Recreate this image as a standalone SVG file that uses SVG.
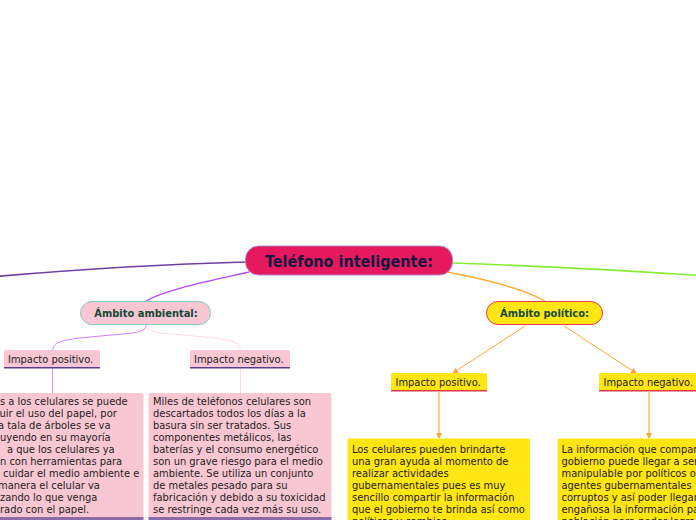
<svg xmlns="http://www.w3.org/2000/svg" width="696" height="520" viewBox="0 0 696 520">
<style>
text{font-family:"DejaVu Sans Condensed","DejaVu Sans",sans-serif;font-stretch:condensed;fill:#222}
.t{font-size:11px}
.b{font-weight:bold;fill:#0f4a35}
.pk{fill:#f9c6d3}
.ye{fill:#ffe512}
.c{fill:none}
</style>
<defs>
<marker id="ah" markerWidth="6" markerHeight="6" refX="5" refY="3" orient="auto" markerUnits="userSpaceOnUse">
<path d="M0,0 L6,3 L0,6 z" fill="#ffa733"/>
</marker>
<clipPath id="clipL"><rect x="0" y="393" width="144" height="127"/></clipPath>
</defs>
<g id="connectors">
<path class="c" d="M246,262 C170,264 70,270 -10,277" stroke="#6f3fa0" stroke-width="1.6"/>
<path class="c" d="M452,263 C540,266 620,270 706,276" stroke="#88ec30" stroke-width="1.6"/>
<path class="c" d="M249,272 C205,282 165,290 146,301" stroke="#b44cf0" stroke-width="1.4"/>
<path class="c" d="M447,272 C490,280 525,290 545,301" stroke="#ffa733" stroke-width="1.3"/>
<path class="c" d="M146,325 C146,334 130,333 90,337 C58,340 53,343 53,350" stroke="#d080ff" stroke-width="1"/>
<path class="c" d="M146,325 C146,334 165,333 205,337 C236,340 240,343 240,350" stroke="#ffd9e8" stroke-width="1"/>
<line x1="52.5" y1="368" x2="52.5" y2="393" stroke="#d491ff" stroke-width="1"/>
<line x1="240.5" y1="368" x2="240.5" y2="393" stroke="#ffd6e6" stroke-width="1"/>
<line x1="525" y1="326" x2="453" y2="373" stroke="#ffa733" stroke-width="1" marker-end="url(#ah)"/>
<line x1="564" y1="326" x2="636" y2="373" stroke="#ffa733" stroke-width="1" marker-end="url(#ah)"/>
<line x1="439" y1="392" x2="439" y2="438" stroke="#ffa733" stroke-width="1.2" marker-end="url(#ah)"/>
<line x1="649" y1="392" x2="649" y2="438" stroke="#ffa733" stroke-width="1.2" marker-end="url(#ah)"/>
</g>
<g id="central">
<rect x="245.5" y="246" width="207" height="29" rx="13" fill="#e6195f" stroke="#b08ad0" stroke-width="1"/>
<text x="349" y="267" text-anchor="middle" font-size="16" font-weight="bold" style="fill:#14183f">Teléfono inteligente:</text>
</g>
<g id="ambiental">
<rect x="80.5" y="301.5" width="130" height="23" rx="11.5" fill="#f9c6d3" stroke="#80cfc0" stroke-width="1"/>
<text class="t b" x="146" y="317" text-anchor="middle">Ámbito ambiental:</text>
</g>
<g id="politico">
<rect x="486.5" y="301.5" width="116" height="23" rx="11.5" fill="#ffe512" stroke="#e8394a" stroke-width="1"/>
<text class="t b" x="544.5" y="317" text-anchor="middle">Ámbito político:</text>
</g>
<g id="amb-positivo">
<rect class="pk" x="4" y="350" width="96" height="18" rx="2"/>
<rect x="4" y="367" width="96" height="1.5" fill="#5c3a8c"/>
<text class="t" x="8" y="363">Impacto positivo.</text>
</g>
<g id="amb-negativo">
<rect class="pk" x="190" y="350" width="100" height="18" rx="2"/>
<rect x="190" y="367" width="100" height="1.5" fill="#5c3a8c"/>
<text class="t" x="194" y="363">Impacto negativo.</text>
</g>
<g id="amb-positivo-texto">
<rect class="pk" x="-10" y="393" width="153.5" height="127" rx="2"/>
<rect x="-10" y="517" width="153.5" height="3" fill="#8c6ca8"/>
<g class="t" clip-path="url(#clipL)">
<text class="t" x="0" y="405">s a los celulares se puede</text>
<text class="t" x="-0.5" y="417">uir el uso del papel, por</text>
<text class="t" x="-2" y="429">a tala de árboles se va</text>
<text class="t" x="0" y="441">uyendo en su mayoría</text>
<text class="t" x="7" y="453">a que los celulares ya</text>
<text class="t" x="0" y="465">n con herramientas para</text>
<text class="t" x="3" y="477">cuidar el medio ambiente e</text>
<text class="t" x="-2" y="489">manera el celular va</text>
<text class="t" x="0" y="501">zando lo que venga</text>
<text class="t" x="0" y="513">rado con el papel.</text>
</g>
</g>
<g id="amb-negativo-texto">
<rect class="pk" x="148.5" y="393" width="183" height="127" rx="2"/>
<rect x="148.5" y="517" width="183" height="3" fill="#8c6ca8"/>
<text class="t" x="153" y="405">Miles de teléfonos celulares son</text>
<text class="t" x="153" y="417">descartados todos los días a la</text>
<text class="t" x="153" y="429">basura sin ser tratados. Sus</text>
<text class="t" x="153" y="441">componentes metálicos, las</text>
<text class="t" x="153" y="453">baterías y el consumo energético</text>
<text class="t" x="153" y="465">son un grave riesgo para el medio</text>
<text class="t" x="153" y="477">ambiente. Se utiliza un conjunto</text>
<text class="t" x="153" y="489">de metales pesado para su</text>
<text class="t" x="153" y="501">fabricación y debido a su toxicidad</text>
<text class="t" x="153" y="513">se restringe cada vez más su uso.</text>
</g>
<g id="pol-positivo">
<rect class="ye" x="391" y="373" width="96" height="18" rx="2"/>
<rect x="391" y="390" width="96" height="1.5" fill="#e0364a"/>
<text class="t" x="395.5" y="386">Impacto positivo.</text>
</g>
<g id="pol-negativo">
<rect class="ye" x="599" y="373" width="100" height="18" rx="2"/>
<rect x="599" y="390" width="100" height="1.5" fill="#e0364a"/>
<text class="t" x="603.5" y="386">Impacto negativo.</text>
</g>
<g id="pol-positivo-texto">
<rect class="ye" x="347.5" y="438.5" width="182.5" height="90" rx="2"/>
<text class="t" x="352" y="452.5">Los celulares pueden brindarte</text>
<text class="t" x="352" y="464.5">una gran ayuda al momento de</text>
<text class="t" x="352" y="476.5">realizar actividades</text>
<text class="t" x="352" y="488.5">gubernamentales pues es muy</text>
<text class="t" x="352" y="500.5">sencillo compartir la información</text>
<text class="t" x="352" y="512.5">que el gobierno te brinda así como</text>
<text class="t" x="352" y="524.5">políticas y cambios.</text>
</g>
<g id="pol-negativo-texto">
<rect class="ye" x="557.5" y="438.5" width="150" height="90" rx="2"/>
<text class="t" x="561.5" y="452.5">La información que compar</text>
<text class="t" x="561.5" y="464.5">gobierno puede llegar a ser</text>
<text class="t" x="561.5" y="476.5">manipulable por políticos o</text>
<text class="t" x="561.5" y="488.5">agentes gubernamentales</text>
<text class="t" x="561.5" y="500.5">corruptos y así poder llegar</text>
<text class="t" x="561.5" y="512.5">engañosa la información pa</text>
<text class="t" x="561.5" y="524.5">población para poder logra</text>
</g>
</svg>
